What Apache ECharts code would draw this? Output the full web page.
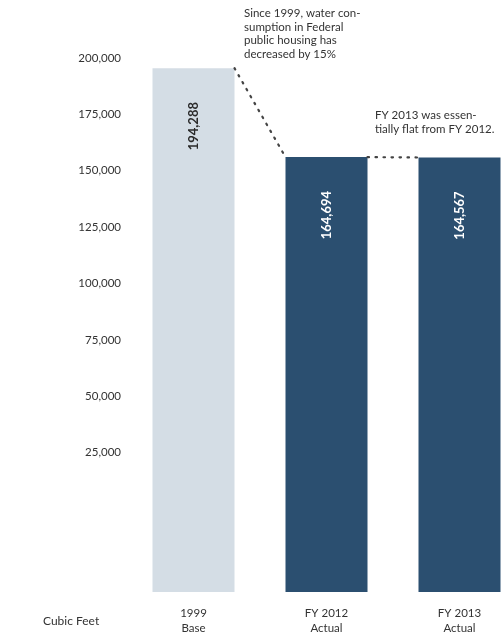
<!DOCTYPE html>
<html>
<head>
<meta charset="utf-8">
<style>
  html, body { margin: 0; padding: 0; background: #ffffff; overflow: hidden; }
  /* the last bar runs off the right edge, so the canvas is wider than the page */
  #chart { width: 526px; height: 644px; }
</style>
<script src="https://cdn.jsdelivr.net/npm/echarts@6/dist/echarts.min.js"></script>
</head>
<body>
<div id="chart"></div>
<script>
// Water consumption in Federal public housing (cubic feet)
const categories = ['1999\nBase', 'FY 2012\nActual', 'FY 2013\nActual'];
const consumption = [194288, 164694, 164567];
const scaleTicks = { min: 0, max: 200000, step: 25000 };
const unitLabel = 'Cubic Feet';
const noteDecline = 'Since 1999, water con-\nsumption in Federal\npublic housing has\ndecreased by 15%';
const noteFlat = 'FY 2013 was essen-\ntially flat from FY 2012.';

// styling
const barColors = ['#d4dde5', '#2b4f70', '#2b4f70'];
const labelColors = ['#2a2a2a', '#ffffff', '#ffffff'];
const FONT = 'Lato, "Open Sans", sans-serif';
const BAR_W = 82;

const chart = echarts.init(document.getElementById('chart'), null, { renderer: 'canvas' });

const barData = consumption.map((v, i) => ({
  value: v,
  itemStyle: { color: barColors[i] },
  label: { color: labelColors[i] }
}));

// pairs of neighbouring bars joined by a dotted connector
const connectors = [];
for (let i = 0; i < consumption.length - 1; i++) {
  connectors.push([i, consumption[i], i + 1, consumption[i + 1]]);
}

const option = {
  backgroundColor: '#ffffff',
  animation: false,
  textStyle: { fontFamily: FONT },
  grid: [
    // grid carrying the value scale on the left
    { left: 127, top: 58, width: 399, height: 451 },
    // grid carrying the bars
    { left: 127, top: 51, width: 399, height: 541 }
  ],
  xAxis: [
    { type: 'category', gridIndex: 0, data: categories, show: false },
    {
      type: 'category', gridIndex: 1, data: categories,
      axisLine: { show: false }, axisTick: { show: false },
      axisLabel: {
        color: '#333', fontSize: 11.5, lineHeight: 15, margin: 14,
        fontFamily: FONT, interval: 0
      }
    }
  ],
  yAxis: [
    {
      type: 'value', gridIndex: 0,
      min: scaleTicks.min, max: scaleTicks.max, interval: scaleTicks.step,
      axisLine: { show: false }, axisTick: { show: false },
      splitLine: { show: false },
      axisLabel: {
        showMinLabel: false, color: '#333', fontSize: 11.5, margin: 6,
        fontFamily: FONT,
        formatter: v => v.toLocaleString('en-US')
      }
    },
    {
      type: 'value', gridIndex: 1, min: 20000, max: 200000, show: false
    }
  ],
  series: [
    {
      type: 'bar', xAxisIndex: 1, yAxisIndex: 1,
      barWidth: BAR_W,
      data: barData,
      label: {
        show: true,
        position: ['50%', 58],
        rotate: 90,
        align: 'center',
        verticalAlign: 'middle',
        fontSize: 13,
        fontWeight: 'bold',
        fontFamily: FONT,
        formatter: p => p.value.toLocaleString('en-US')
      }
    },
    {
      type: 'custom', xAxisIndex: 1, yAxisIndex: 1,
      data: connectors,
      encode: { x: [0, 2], y: [1, 3] },
      silent: true,
      z: 5,
      renderItem: (params, api) => {
        const a = api.coord([api.value(0), api.value(1)]);
        const b = api.coord([api.value(2), api.value(3)]);
        return {
          type: 'line',
          shape: { x1: a[0] + BAR_W / 2, y1: a[1], x2: b[0] - BAR_W / 2, y2: b[1] },
          style: { stroke: '#444', lineWidth: 2.2, lineDash: [1.5, 6.5], lineCap: 'round' }
        };
      }
    }
  ],
  graphic: [
    {
      type: 'text', left: 43, top: 615,
      style: { text: unitLabel, fill: '#333', font: '12px ' + FONT }
    },
    {
      type: 'text', left: 244, top: 7,
      style: { text: noteDecline, fill: '#333', font: '11.5px ' + FONT, lineHeight: 13.5 }
    },
    {
      type: 'text', left: 375, top: 108,
      style: { text: noteFlat, fill: '#333', font: '11.5px ' + FONT, lineHeight: 14 }
    }
  ]
};

chart.setOption(option);
</script>
</body>
</html>
